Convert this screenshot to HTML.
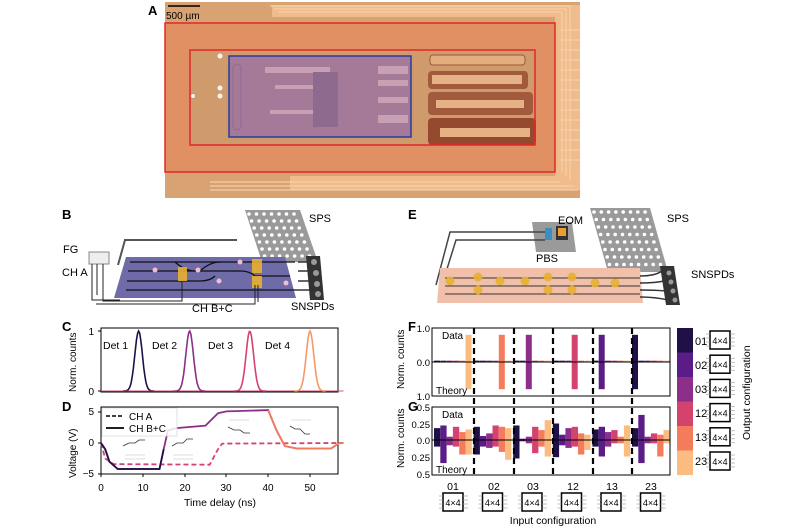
<!DOCTYPE html>
<html><head><meta charset="utf-8"><style>
html,body{margin:0;padding:0;background:#fff;width:800px;height:530px;overflow:hidden}
svg{display:block;font-family:"Liberation Sans",sans-serif}
</style></head><body>
<svg id="s" width="800" height="530" viewBox="0 0 800 530" xmlns="http://www.w3.org/2000/svg">
<!-- Panel A -->
<text x="148" y="15" font-size="13" font-weight="bold">A</text>
<rect x="165" y="2" width="415" height="196" fill="#d9a272"/>
<g fill="#f0bc8c">
<rect x="272" y="5" width="308" height="12"/><rect x="290" y="176" width="290" height="14"/>
<rect x="555" y="10" width="25" height="180"/>
</g>
<g stroke="#f6cfa6" stroke-width="1.2" fill="none">
<path d="M270 6H570V180M274 9H566V176M278 12H562V172M210 182H560M210 186H575M210 190H578"/>
<path d="M560 30H580M560 40H580M560 50H580M560 60H580M560 70H580M560 80H580M560 90H580M560 100H580M560 110H580M560 120H580M560 130H580M560 140H580M560 150H580M560 160H580"/>
</g>
<rect x="165" y="23" width="390" height="149" fill="#e28a5e" opacity="0.75"/>
<rect x="190" y="50" width="345" height="95" fill="#cf9a6c"/>
<rect x="229" y="56" width="182" height="81" fill="#a47a98"/>
<g fill="#c8a0b4"><rect x="265" y="67" width="65" height="6"/><rect x="275" y="85" width="60" height="4"/><rect x="270" y="110" width="60" height="4"/><rect x="378" y="66" width="30" height="8"/><rect x="378" y="80" width="30" height="6"/><rect x="378" y="97" width="30" height="6"/><rect x="378" y="115" width="30" height="8"/></g>
<rect x="313" y="72" width="25" height="55" fill="#8e6a8e"/>
<rect x="233" y="64" width="8" height="66" rx="4" fill="none" stroke="#8e6a96"/>
<rect x="430" y="55" width="95" height="10" rx="3" fill="#e3ad7f" stroke="#9c5a3a"/>
<rect x="428" y="71" width="100" height="18" rx="4" fill="#a25a3c"/><rect x="432" y="75" width="90" height="9" fill="#e6b184"/>
<rect x="428" y="92" width="105" height="23" rx="4" fill="#a25a3c"/><rect x="436" y="100" width="88" height="8" fill="#e6b184"/>
<rect x="428" y="118" width="108" height="27" rx="4" fill="#954a30"/><rect x="440" y="128" width="90" height="9" fill="#e6b184"/>
<rect x="165" y="23" width="390" height="149" fill="none" stroke="#e02828" stroke-width="1.5"/>
<rect x="190" y="50" width="345" height="95" fill="none" stroke="#e02828" stroke-width="1.5"/>
<rect x="229" y="56" width="182" height="81" fill="none" stroke="#2a3aa0" stroke-width="1.5"/>
<line x1="168" y1="6" x2="200" y2="6" stroke="#000" stroke-width="1.5"/>
<text x="166" y="19" font-size="10">500 µm</text>
<g fill="#fff" opacity="0.9"><circle cx="220" cy="56" r="2.5"/><circle cx="220" cy="88" r="2.5"/><circle cx="220" cy="96" r="2.5"/><circle cx="193" cy="96" r="2"/></g>

<!-- Panel B -->
<text x="62" y="219" font-size="13" font-weight="bold">B</text>
<polygon points="245,210 300,210 318,262 262,262" fill="#9a9a9a"/>
<g id="dotsB" fill="#fff"></g>
<text x="309" y="222" font-size="11">SPS</text>
<path d="M118 265 L125 240 H237" stroke="#555" stroke-width="2" fill="none"/>
<polygon points="126,257 285,257 296,298 114,298" fill="#6f6aa8"/>
<g stroke="#111" stroke-width="1.3" fill="none">
<path d="M130 262 H295 M128 271 H240 Q250 271 255 276 H290 M127 281 H200 Q210 281 215 276 M126 290 H298"/>
<path d="M175 262 Q185 271 195 271 M200 271 Q210 262 220 262"/>
</g>
<g fill="#e8b030" opacity="0.9"><rect x="178" y="267" width="9" height="14"/><rect x="252" y="259" width="10" height="14"/><rect x="252" y="276" width="10" height="12"/></g>
<g fill="#f2bcd0"><circle cx="155" cy="270" r="2.5"/><circle cx="198" cy="270" r="2.5"/><circle cx="219" cy="281" r="2.5"/><circle cx="240" cy="262" r="2.5"/><circle cx="286" cy="283" r="2.5"/></g>
<path d="M298 262 H310 M298 271 H310 M298 281 H310 M298 290 H310" stroke="#333" stroke-width="1.5"/>
<polygon points="306,256 320,256 324,300 310,300" fill="#333"/>
<g fill="#999"><circle cx="314" cy="262" r="3"/><circle cx="316" cy="273" r="3"/><circle cx="317" cy="284" r="3"/><circle cx="318" cy="294" r="3"/></g>
<rect x="89" y="252" width="20" height="12" fill="#eee" stroke="#888"/>
<path d="M92 264 V300 H120 M97 264 V295 M182 281 V301 H103 V264 M255 285 V304 H96 M258 285 V302" stroke="#222" fill="none" stroke-width="1"/>
<text x="63" y="253" font-size="11">FG</text>
<text x="62" y="276" font-size="11">CH A</text>
<text x="192" y="312" font-size="11">CH B+C</text>
<text x="291" y="310" font-size="11">SNSPDs</text>

<!-- Panel E -->
<text x="408" y="219" font-size="13" font-weight="bold">E</text>
<polygon points="532,222 572,222 576,252 536,252" fill="#9a9a9a"/>
<rect x="545" y="228" width="7" height="12" fill="#3a8ec0"/><rect x="556" y="226" width="12" height="14" fill="#333"/><rect x="558" y="228" width="8" height="8" fill="#e8a030"/>
<text x="558" y="224" font-size="11">EOM</text><text x="536" y="262" font-size="11">PBS</text>
<polygon points="590,208 650,208 668,272 608,272" fill="#9a9a9a"/>
<g id="dotsE" fill="#fff"></g>
<text x="667" y="222" font-size="11">SPS</text>
<path d="M436 285 L450 232 H545 M442 285 L456 240 H545" stroke="#444" stroke-width="1.5" fill="none"/>
<polygon points="440,268 640,268 643,303 437,303" fill="#f0c0aa"/>
<g stroke="#333" stroke-width="1" fill="none"><path d="M445 278 H640 M445 286 H640 M445 294 H640"/></g>
<g id="eomE" fill="#e8b030"></g>
<path d="M640 276 Q655 276 662 271 M640 283 Q655 283 664 281 M640 290 Q655 290 666 291 M640 297 Q655 297 668 300" stroke="#333" stroke-width="1.5" fill="none"/>
<polygon points="660,266 674,266 680,305 666,305" fill="#333"/>
<g fill="#999"><circle cx="669" cy="273" r="2.5"/><circle cx="671" cy="282" r="2.5"/><circle cx="673" cy="291" r="2.5"/><circle cx="675" cy="300" r="2.5"/></g>
<text x="691" y="278" font-size="11">SNSPDs</text>

<!-- Panel C -->
<text x="62" y="331" font-size="13" font-weight="bold">C</text>
<rect x="101" y="328" width="237" height="64" fill="none" stroke="#000"/>
<text font-size="10" transform="translate(76 392) rotate(-90)">Norm. counts</text>
<text x="94" y="335" font-size="10" text-anchor="end">1</text><text x="94" y="395" font-size="10" text-anchor="end">0</text>
<line x1="98" y1="331" x2="101" y2="331" stroke="#000"/><line x1="98" y1="391" x2="101" y2="391" stroke="#000"/>
<g id="peaks" fill="none" stroke-width="1.6"></g>
<text x="103" y="349" font-size="10.5">Det 1</text><text x="152" y="349" font-size="10.5">Det 2</text><text x="208" y="349" font-size="10.5">Det 3</text><text x="265" y="349" font-size="10.5">Det 4</text>

<!-- Panel D -->
<text x="62" y="411" font-size="13" font-weight="bold">D</text>
<rect x="101" y="407" width="237" height="67" fill="none" stroke="#000"/>
<text font-size="10" transform="translate(76 478) rotate(-90)">Voltage (V)</text>
<text x="94" y="415" font-size="10" text-anchor="end">5</text><text x="94" y="446" font-size="10" text-anchor="end">0</text><text x="94" y="477" font-size="10" text-anchor="end">−5</text>
<g stroke="#000"><line x1="98" y1="412" x2="101" y2="412"/><line x1="98" y1="443" x2="101" y2="443"/><line x1="98" y1="474" x2="101" y2="474"/></g>
<polyline id="dashA" fill="none" stroke-width="1.8" stroke-dasharray="5,3"/>
<polyline id="solidB" fill="none" stroke-width="1.8"/>
<rect x="102" y="408" width="75" height="28" fill="#fff" opacity="0.85" stroke="#ddd"/>
<line x1="106" y1="416" x2="124" y2="416" stroke="#000" stroke-width="1.5" stroke-dasharray="4,2"/>
<line x1="106" y1="428" x2="124" y2="428" stroke="#000" stroke-width="1.8"/>
<text x="129" y="420" font-size="10">CH A</text><text x="129" y="432" font-size="10">CH B+C</text>
<g stroke="#333" fill="none" stroke-width="0.8"><path d="M123 446 l6 -3 h6 l4 -3 h6 M228 427 l6 3 h6 l4 3 h6 M172 446 l5 -3 h6 l4 -4 h6 M290 426 l5 3 h5 l5 5 h5"/></g>
<g stroke="#bbb" fill="none" stroke-width="0.6"><path d="M125 455 h20 M125 459 h20 M229 420 h20 M291 420 h20 M173 455 h20 M173 459 h20"/></g>
<g font-size="10" text-anchor="middle"><text x="101" y="491">0</text><text x="143" y="491">10</text><text x="185" y="491">20</text><text x="226" y="491">30</text><text x="268" y="491">40</text><text x="310" y="491">50</text></g>
<g stroke="#000"><line x1="101" y1="474" x2="101" y2="477"/><line x1="143" y1="474" x2="143" y2="477"/><line x1="185" y1="474" x2="185" y2="477"/><line x1="226" y1="474" x2="226" y2="477"/><line x1="268" y1="474" x2="268" y2="477"/><line x1="310" y1="474" x2="310" y2="477"/></g>
<text x="220" y="506" font-size="10.5" text-anchor="middle">Time delay (ns)</text>

<!-- Panel F/G -->
<text x="408" y="331" font-size="13" font-weight="bold">F</text>
<text x="408" y="411" font-size="13" font-weight="bold">G</text>
<g id="bars"></g>
<rect x="432" y="328" width="238" height="68" fill="none" stroke="#000"/>
<rect x="432" y="407" width="238" height="68" fill="none" stroke="#000"/>
<line x1="432" y1="362" x2="670" y2="362" stroke="#000"/>
<line x1="432" y1="440" x2="670" y2="440" stroke="#000"/>
<g stroke="#000" stroke-width="2.2" stroke-dasharray="6,4"><line x1="474" y1="328" x2="474" y2="475"/><line x1="514" y1="328" x2="514" y2="475"/><line x1="553" y1="328" x2="553" y2="475"/><line x1="593" y1="328" x2="593" y2="475"/><line x1="632" y1="328" x2="632" y2="475"/></g>
<text font-size="10" transform="translate(404 389) rotate(-90)">Norm. counts</text>
<text font-size="10" transform="translate(404 468) rotate(-90)">Norm. counts</text>
<g font-size="9.5" text-anchor="end"><text x="430" y="332">1.0</text><text x="430" y="366">0.0</text><text x="430" y="400">1.0</text><text x="430" y="411">0.5</text><text x="430" y="428">0.25</text><text x="430" y="444">0.0</text><text x="430" y="461">0.25</text><text x="430" y="478">0.5</text></g>
<g font-size="10"><text x="442" y="339">Data</text><text x="436" y="394">Theory</text><text x="442" y="418">Data</text><text x="436" y="473">Theory</text></g>
<g id="cbar"></g>
<g font-size="11"><text x="695" y="345">01</text><text x="695" y="369">02</text><text x="695" y="393">03</text><text x="695" y="417">12</text><text x="695" y="441">13</text><text x="695" y="465">23</text></g>
<g id="boxes" font-size="9"></g>
<text font-size="10.5" transform="translate(750 440) rotate(-90)">Output configuration</text>
<g font-size="10.5" text-anchor="middle"><text x="453" y="490">01</text><text x="494" y="490">02</text><text x="533" y="490">03</text><text x="573" y="490">12</text><text x="612" y="490">13</text><text x="651" y="490">23</text></g>
<text x="553" y="524" font-size="10.5" text-anchor="middle">Input configuration</text>
</svg>
<script>
var NS="http://www.w3.org/2000/svg";
function el(p,t,a){var e=document.createElementNS(NS,t);for(var k in a)e.setAttribute(k,a[k]);document.getElementById(p).appendChild(e);return e;}
var C=["#1f1147","#5a1c86","#8c2e8a","#d3436e","#f57b5d","#fbbc80"];
function dots(id,x0,y0,x1,rows,cols,dx,dy,sk){for(var r=0;r<rows;r++)for(var c=0;c<cols;c++)el(id,"circle",{cx:x0+c*dx+r*sk,cy:y0+r*dy,r:1.8});}
dots("dotsB",249,214,0,7,7,7.5,7,2.6);
dots("dotsE",594,212,0,8,8,7.3,7.5,2.2);
[[450,281],[478,277],[478,290],[500,281],[525,281],[548,277],[548,290],[572,277],[572,290],[595,283],[615,283]].forEach(function(p){el("eomE","circle",{cx:p[0],cy:p[1],r:4.5,opacity:0.9});});
var pc=["#1f1147","#8c2e8a","#d3436e","#f79868"],pm=[9,21.2,35.6,50];
function X(t){return 101+t*4.18;}
for(var i=0;i<4;i++){var d="";for(var t=0;t<=58;t+=0.25){var v=Math.exp(-Math.pow((t-pm[i])/0.9,2)/2);var y=391-60*v;if(Math.abs(t-pm[i])<4)d+=(d?"L":"M")+X(t).toFixed(1)+" "+y.toFixed(1);}
el("peaks","path",{d:"M"+X(0)+" 391 H"+X(58),stroke:"#d3436e","stroke-width":1,opacity:0.5});
el("peaks","path",{d:d,stroke:pc[i]});}
function V(v){return 443-v*6.2;}
var sol=[[0,0],[1,-1],[2,-3],[4,-4.2],[14,-4.2],[15,-1],[16,2],[18,2.4],[25,2.8],[28,4.8],[30,5.1],[40,5.3],[42,2],[44,-0.5],[47,-0.9],[55,-0.9],[57,0],[58,0]];
var das=[[0,0],[1,-2.5],[3,-3.4],[26,-3.5],[28,-1],[29,-0.1],[58,0]];
function pts(a){return a.map(function(p){return X(p[0]).toFixed(1)+","+V(p[1]).toFixed(1)}).join(" ");}
var g1=document.getElementById("solidB");g1.setAttribute("points",pts(sol));g1.setAttribute("stroke","#8c2e8a");
var g2=document.getElementById("dashA");g2.setAttribute("points",pts(das));g2.setAttribute("stroke","#d3436e");
el("s","polyline",{points:pts(sol.slice(0,6)),fill:"none",stroke:"#1f1147","stroke-width":1.8});
el("s","polyline",{points:pts(sol.slice(11)),fill:"none",stroke:"#f57b5d","stroke-width":1.8});
var dom=[5,4,2,3,1,0];
var G=[[.18,.22,.05,.2,.12,.16],[.2,.06,.1,.22,.2,.18],[.22,.02,.05,.2,.15,.3],[.25,.08,.18,.2,.1,.08],[.16,.2,.12,.15,.05,.22],[.18,.38,.05,.1,.08,.15]];
var GT=[[.1,.35,.08,.1,.22,.22],[.22,.1,.12,.1,.18,.3],[.28,.02,.05,.2,.1,.25],[.26,.08,.12,.1,.22,.15],[.1,.25,.1,.05,.05,.25],[.1,.35,.05,.05,.25,.05]];
for(var g=0;g<6;g++){var x0=434+g*39.6;for(var b=0;b<6;b++){var x=x0+b*6.3;
 var dv=(b==dom[g])?0.8:0.04, tv=(b==dom[g])?0.8:0;
 el("bars","rect",{x:x,y:362-dv*34,width:6,height:dv*34,fill:C[b]});
 el("bars","rect",{x:x,y:362,width:6,height:tv*34,fill:C[b]});
 el("bars","rect",{x:x,y:440-G[g][b]*66,width:6.3,height:G[g][b]*66,fill:C[b]});
 el("bars","rect",{x:x,y:440,width:6.3,height:GT[g][b]*66,fill:C[b]});}}
for(var i=0;i<6;i++)el("cbar","rect",{x:677,y:328+i*24.5,width:16,height:24.6,fill:C[i]});
function box(x,y){el("boxes","rect",{x:x,y:y,width:20,height:18,fill:"#fff",stroke:"#000","stroke-width":1.5});
 var t=el("boxes","text",{x:x+10,y:y+13,"text-anchor":"middle"});t.textContent="4×4";
 for(var k=0;k<4;k++){el("boxes","line",{x1:x-4,x2:x,y1:y+3+k*4,y2:y+3+k*4,stroke:"#999","stroke-width":0.6});el("boxes","line",{x1:x+20,x2:x+25,y1:y+3+k*4,y2:y+3+k*4,stroke:"#999","stroke-width":0.6});}}
for(var i=0;i<6;i++)box(710,331+i*24.2);
for(var i=0;i<6;i++)box(443+i*39.5,493);
</script>
</body></html>
